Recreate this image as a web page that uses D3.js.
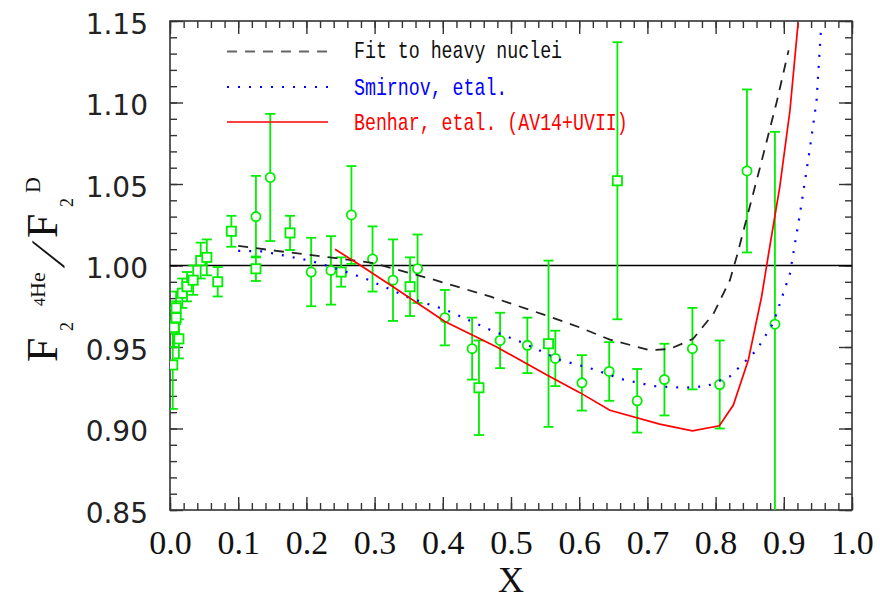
<!DOCTYPE html>
<html>
<head>
<meta charset="utf-8">
<script src="https://cdn.jsdelivr.net/npm/d3@7/dist/d3.min.js"></script>
<style>
  html, body { margin: 0; padding: 0; background: #fff; }
  svg { display: block; }
</style>
</head>
<body>
<svg id="chart" width="880" height="600"></svg>
<script>
// ---------- data ----------
const squareX   = [0.004, 0.006, 0.009, 0.013, 0.009, 0.018, 0.025, 0.034, 0.045, 0.054, 0.070, 0.090, 0.126, 0.176, 0.251, 0.352, 0.453, 0.555, 0.656];
const squareY   = [0.939, 0.962, 0.968, 0.955, 0.974, 0.983, 0.987, 0.991, 1.003, 1.005, 0.990, 1.021, 0.998, 1.020, 0.996, 0.987, 0.925, 0.952, 1.052];
const squareErr = [0.027, 0.012, 0.010, 0.012, 0.010, 0.009, 0.009, 0.009, 0.011, 0.011, 0.009, 0.0095, 0.0075, 0.0105, 0.009, 0.018, 0.029, 0.051, 0.085];

const circleX   = [0.126, 0.147, 0.207, 0.236, 0.266, 0.297, 0.327, 0.363, 0.403, 0.443, 0.484, 0.524, 0.565, 0.604, 0.644, 0.685, 0.725, 0.766, 0.806, 0.846, 0.887];
const circleY   = [1.030, 1.054, 0.996, 0.997, 1.031, 1.004, 0.991, 0.998, 0.968, 0.949, 0.954, 0.951, 0.943, 0.928, 0.935, 0.917, 0.930, 0.949, 0.927, 1.058, 0.964];
const circleErr = [0.025, 0.039, 0.021, 0.021, 0.030, 0.020, 0.025, 0.021, 0.017, 0.019, 0.017, 0.017, 0.017, 0.017, 0.018, 0.0195, 0.022, 0.025, 0.027, 0.050, 0.118];

const fitX = [0.100, 0.156, 0.244, 0.298, 0.381, 0.469, 0.547, 0.601, 0.645, 0.704, 0.733, 0.767, 0.797, 0.821, 0.831, 0.865, 0.890, 0.907];
const fitY = [1.012, 1.009, 1.0045, 1.0015, 0.992, 0.981, 0.970, 0.962, 0.9545, 0.948, 0.9488, 0.955, 0.9705, 0.991, 1.0055, 1.060, 1.101, 1.132];

const smirnovX = [0.100, 0.137, 0.205, 0.2395, 0.288, 0.352, 0.403, 0.469, 0.518, 0.572, 0.616, 0.665, 0.709, 0.753, 0.787, 0.821, 0.860, 0.8846, 0.909, 0.9238, 0.938, 0.948, 0.955];
const smirnovY = [1.009, 1.0086, 1.003, 0.9988, 0.9917, 0.980, 0.973, 0.9606, 0.9525, 0.942, 0.937, 0.930, 0.926, 0.925, 0.926, 0.932, 0.948, 0.9647, 0.995, 1.032, 1.071, 1.101, 1.148];

const benharX = [0.242, 0.274, 0.327, 0.403, 0.479, 0.552, 0.601, 0.645, 0.718, 0.766, 0.8055, 0.826, 0.848, 0.8675, 0.877, 0.894, 0.909, 0.921];
const benharY = [1.010, 1.0015, 0.987, 0.9657, 0.950, 0.933, 0.922, 0.9112, 0.9027, 0.8986, 0.9017, 0.9144, 0.942, 0.981, 1.0055, 1.048, 1.095, 1.149];

const xMajorTicks = [0.0, 0.1, 0.2, 0.3, 0.4, 0.5, 0.6, 0.7, 0.8, 0.9, 1.0];
const yMajorTicks = [0.85, 0.90, 0.95, 1.00, 1.05, 1.10, 1.15];
const legendLabels = ["Fit to heavy nuclei", "Smirnov, etal.", "Benhar, etal. (AV14+UVII)"];

// ---------- layout ----------
const svg = d3.select("#chart");
const L = 170, R = 852, T = 21, B = 510;
const x = d3.scaleLinear().domain([0, 1]).range([L, R]);
const y = d3.scaleLinear().domain([0.85, 1.15]).range([B, T]);
const green = "#00ee00";

svg.append("defs").append("clipPath").attr("id", "clip")
  .append("rect").attr("x", L).attr("y", T).attr("width", R - L).attr("height", B - T);

const xMinor = d3.range(0, 1.0001, 0.02).map(v => +v.toFixed(2));
const yMinor = d3.range(0.85, 1.1501, 0.01).map(v => +v.toFixed(2));

function styleAxis(g) {
  g.select(".domain").remove();
  g.selectAll(".tick line").attr("stroke", "#333").attr("stroke-width", 1.4);
}

// minor ticks
svg.append("g").attr("transform", `translate(0,${B})`)
  .call(d3.axisBottom(x).tickValues(xMinor).tickSize(-7).tickFormat("")).call(styleAxis);
svg.append("g").attr("transform", `translate(0,${T})`)
  .call(d3.axisTop(x).tickValues(xMinor).tickSize(-7).tickFormat("")).call(styleAxis);
svg.append("g").attr("transform", `translate(${L},0)`)
  .call(d3.axisLeft(y).tickValues(yMinor).tickSize(-7).tickFormat("")).call(styleAxis);
svg.append("g").attr("transform", `translate(${R},0)`)
  .call(d3.axisRight(y).tickValues(yMinor).tickSize(-7).tickFormat("")).call(styleAxis);

// major ticks
const gxb = svg.append("g").attr("transform", `translate(0,${B})`)
  .call(d3.axisBottom(x).tickValues(xMajorTicks).tickSize(-13).tickFormat(d3.format(".1f"))).call(styleAxis);
gxb.selectAll(".tick text")
  .attr("y", 44).attr("dy", null)
  .attr("font-family", "'Liberation Serif', 'Times New Roman', serif")
  .attr("font-size", 34).attr("fill", "#111");
svg.append("g").attr("transform", `translate(0,${T})`)
  .call(d3.axisTop(x).tickValues(xMajorTicks).tickSize(-13).tickFormat("")).call(styleAxis);
const gyl = svg.append("g").attr("transform", `translate(${L},0)`)
  .call(d3.axisLeft(y).tickValues(yMajorTicks).tickSize(-13).tickFormat(d3.format(".2f"))).call(styleAxis);
gyl.selectAll(".tick text")
  .attr("x", -22).attr("dy", null).attr("y", 12)
  .attr("font-family", "'DejaVu Sans', sans-serif")
  .attr("font-size", 28).attr("fill", "#222");
svg.append("g").attr("transform", `translate(${R},0)`)
  .call(d3.axisRight(y).tickValues(yMajorTicks).tickSize(-13).tickFormat("")).call(styleAxis);

// frame
svg.append("rect").attr("x", L).attr("y", T).attr("width", R - L).attr("height", B - T)
  .attr("fill", "none").attr("stroke", "#333").attr("stroke-width", 1.6);

// unity line
svg.append("line").attr("x1", x(0)).attr("x2", x(1)).attr("y1", y(1)).attr("y2", y(1))
  .attr("stroke", "#000").attr("stroke-width", 1.6);

const plot = svg.append("g").attr("clip-path", "url(#clip)");

const line = d3.line().x(d => x(d[0])).y(d => y(d[1]));
const fitData = fitX.map((v, i) => [v, fitY[i]]);
const smirData = smirnovX.map((v, i) => [v, smirnovY[i]]);
const benData = benharX.map((v, i) => [v, benharY[i]]);

function drawPoints(xs, ys, es, shape) {
  const pts = xs.map((v, i) => ({x: v, y: ys[i], e: es[i]}));
  const g = plot.append("g");
  const eg = g.selectAll("g.eb").data(pts).join("g").attr("stroke", green).attr("stroke-width", 1.8);
  eg.append("line").attr("x1", d => x(d.x)).attr("x2", d => x(d.x))
    .attr("y1", d => y(d.y - d.e)).attr("y2", d => y(d.y + d.e));
  eg.append("line").attr("x1", d => x(d.x) - 5).attr("x2", d => x(d.x) + 5)
    .attr("y1", d => y(d.y - d.e)).attr("y2", d => y(d.y - d.e));
  eg.append("line").attr("x1", d => x(d.x) - 5).attr("x2", d => x(d.x) + 5)
    .attr("y1", d => y(d.y + d.e)).attr("y2", d => y(d.y + d.e));
  if (shape === "circle") {
    g.selectAll("circle").data(pts).join("circle")
      .attr("cx", d => x(d.x)).attr("cy", d => y(d.y)).attr("r", 4.6)
      .attr("fill", "#fff").attr("stroke", green).attr("stroke-width", 1.8);
  } else {
    g.selectAll("rect").data(pts).join("rect")
      .attr("x", d => x(d.x) - 4.6).attr("y", d => y(d.y) - 4.6)
      .attr("width", 9.2).attr("height", 9.2)
      .attr("fill", "#fff").attr("stroke", green).attr("stroke-width", 1.8);
  }
}
drawPoints(squareX, squareY, squareErr, "square");
drawPoints(circleX, circleY, circleErr, "circle");

plot.append("path").datum(fitData).attr("d", line).attr("fill", "none")
  .attr("stroke", "#222").attr("stroke-width", 1.8).attr("stroke-dasharray", "10,8");
plot.append("path").datum(smirData).attr("d", line).attr("fill", "none")
  .attr("stroke", "#0000ff").attr("stroke-width", 2.2).attr("stroke-dasharray", "2,9");
plot.append("path").datum(benData).attr("d", line).attr("fill", "none")
  .attr("stroke", "#ff0000").attr("stroke-width", 1.7);

// legend
const legendStyles = [
  {stroke: "#666", dash: "10,8", w: 1.8, color: "#111", ly: 51.5, ty: 58},
  {stroke: "#0000ff", dash: "2,9", w: 2.2, color: "#0000ff", ly: 87, ty: 95},
  {stroke: "#ff0000", dash: null, w: 1.7, color: "#ff0000", ly: 122, ty: 130}
];
legendLabels.forEach((lab, i) => {
  const s = legendStyles[i];
  svg.append("line").attr("x1", 227).attr("x2", 328).attr("y1", s.ly).attr("y2", s.ly)
    .attr("stroke", s.stroke).attr("stroke-width", s.w).attr("stroke-dasharray", s.dash);
  svg.append("text").attr("x", 354).attr("y", s.ty)
    .attr("font-family", "'Liberation Mono', 'Courier New', monospace")
    .attr("font-size", 24).attr("fill", s.color)
    .attr("textLength", lab.length * 10.95).attr("lengthAdjust", "spacingAndGlyphs")
    .text(lab);
});

// axis titles
svg.append("text").attr("x", (L + R) / 2).attr("y", 592).attr("text-anchor", "middle")
  .attr("font-family", "'Liberation Serif', 'Times New Roman', serif")
  .attr("font-size", 36).attr("fill", "#111").text("X");

const yt = svg.append("g").attr("transform", "translate(57,362) rotate(-90)")
  .attr("font-family", "'Liberation Serif', 'Times New Roman', serif").attr("fill", "#111");
yt.append("text").attr("x", 0).attr("y", 0).attr("font-size", 44).text("F");
yt.append("text").attr("x", 31).attr("y", 16).attr("font-size", 18).text("2");
yt.append("text").attr("x", 56).attr("y", -12).attr("font-size", 16).text("4");
yt.append("text").attr("x", 64).attr("y", -12).attr("font-size", 22).text("He");
yt.append("g").attr("transform", "translate(94,7) skewX(-24)")
  .append("text").attr("x", 0).attr("y", 0).attr("font-size", 48).attr("font-weight", 300).text("/");
yt.append("text").attr("x", 124).attr("y", 0).attr("font-size", 44).text("F");
yt.append("text").attr("x", 155).attr("y", 16).attr("font-size", 18).text("2");
yt.append("text").attr("x", 169).attr("y", -17).attr("font-size", 22).text("D");
</script>
</body>
</html>
